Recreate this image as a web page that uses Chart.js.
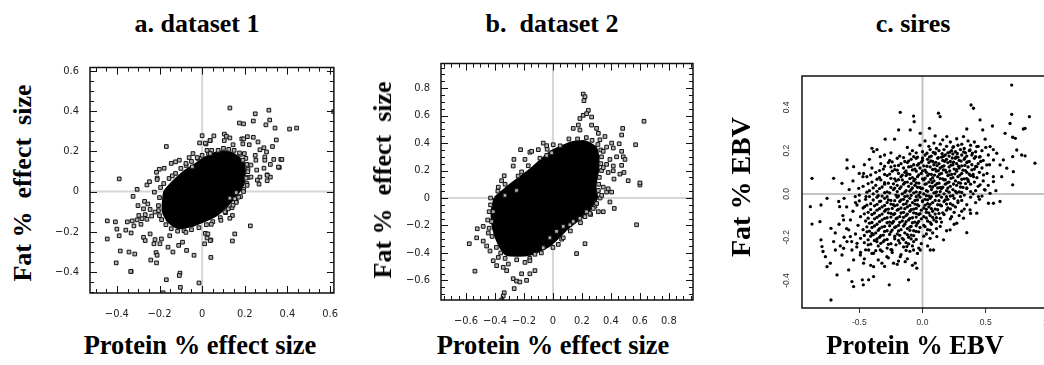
<!DOCTYPE html>
<html>
<head>
<meta charset="utf-8">
<script src="https://cdn.jsdelivr.net/npm/chart.js@4.4.1/dist/chart.umd.min.js"></script>
<style>
html, body { margin:0; padding:0; background:#fff; width:1044px; height:365px; overflow:hidden; }
canvas { position:absolute; }
.lbl { position:absolute; font-family:"Liberation Serif","Times New Roman",serif; font-weight:bold; color:#000; white-space:pre; line-height:1; }
.title { font-size:26px; transform:translateX(-50%); top:11px; }
.xlab { font-size:26.5px; transform:translateX(-50%); top:332px; }
.ylab { font-size:26px; transform:translate(-50%,-50%) rotate(-90deg); }
</style>
</head>
<body>
<canvas id="chartA" width="305" height="265" style="left:40px;top:58px"></canvas>
<canvas id="chartB" width="308" height="276" style="left:390px;top:54px"></canvas>
<canvas id="chartC" width="330" height="267" style="left:740px;top:71px"></canvas>

<div class="lbl title" style="left:197px">a. dataset 1</div>
<div class="lbl title" style="left:552px">b.  dataset 2</div>
<div class="lbl title" style="left:913px">c. sires</div>
<div class="lbl ylab" style="left:23px;top:183px">Fat %  effect  size</div>
<div class="lbl ylab" style="left:383px;top:180px">Fat %  effect  size</div>
<div class="lbl ylab" style="left:741px;top:187px;font-size:28px">Fat % EBV</div>
<div class="lbl xlab" style="left:200px">Protein % effect size</div>
<div class="lbl xlab" style="left:553px">Protein % effect size</div>
<div class="lbl xlab" style="left:915px">Protein % EBV</div>

<script>
// tick labels
const ticksAX = [-0.4, -0.2, 0, 0.2, 0.4, 0.6];
const ticksAY = [-0.4, -0.2, 0, 0.2, 0.4, 0.6];
const ticksBX = [-0.6, -0.4, -0.2, 0, 0.2, 0.4, 0.6, 0.8];
const ticksBY = [-0.6, -0.4, -0.2, 0, 0.2, 0.4, 0.6, 0.8];
const ticksCX = [-0.5, 0, 0.5, 1.0];
const ticksCY = [-0.4, -0.2, 0, 0.2, 0.4];
const labelsCX = ['-0.5', '0.0', '0.5', '1.0'];
const labelsCY = ['-0.4', '-0.2', '0.0', '0.2', '0.4'];

// a. dataset 1: outline of the solid black core, squares along its rim, then the separate squares
const coreA = [[-0.183,-0.065],[-0.175,0.0],[-0.135,0.049],[-0.084,0.098],[-0.038,0.130],[0.008,0.163],[0.053,0.187],[0.099,0.198],[0.145,0.187],[0.191,0.146],[0.198,0.098],[0.19,0.033],[0.16,-0.016],[0.12,-0.065],[0.069,-0.114],[0.008,-0.146],[-0.053,-0.171],[-0.114,-0.179],[-0.160,-0.146],[-0.183,-0.098],[-0.183,-0.065]];
const rimA = [
  [-0.205,-0.07],[-0.195,0.02],[-0.155,0.065],[-0.10,0.115],[-0.05,0.15],[0.0,0.18],[0.045,0.205],[0.1,0.215],[0.15,0.205],[0.205,0.165],[0.215,0.11],[0.21,0.04],
  [0.18,-0.025],[0.14,-0.08],[0.085,-0.13],[0.02,-0.165],[-0.05,-0.19],[-0.115,-0.197],[-0.17,-0.165],[-0.2,-0.12],
  [-0.2,-0.03],[-0.18,0.04],[-0.125,0.09],[-0.075,0.13],[-0.02,0.165],[0.03,0.19],[0.075,0.205],[0.125,0.21],[0.18,0.185],[0.21,0.135],[0.215,0.07],[0.195,0.01],
  [0.16,-0.05],[0.11,-0.105],[0.05,-0.15],[-0.015,-0.18],[-0.085,-0.195],[-0.145,-0.185],[-0.19,-0.14],[-0.205,-0.095]
];
const pointsA = [
  [0.0,0.278],[-0.012,0.242],[0.018,0.237],[0.038,0.254],[-0.168,0.224],[0.023,0.205],[0.038,0.189],[-0.043,0.189],[-0.061,0.169],[-0.023,0.169],
  [-0.107,0.156],[-0.125,0.148],[-0.145,0.140],[-0.178,0.116],[-0.201,0.111],[-0.214,0.096],[-0.140,0.078],[-0.211,0.067],[-0.389,0.063],[-0.076,0.140],[-0.046,0.123],
  [0.130,0.416],[0.249,0.387],[0.313,0.405],[0.617,0.398],[0.240,0.351],[0.317,0.356],[0.175,0.341],[0.194,0.337],[0.299,0.332],[0.342,0.316],[0.410,0.311],[0.443,0.316],
  [0.055,0.277],[0.104,0.286],[0.114,0.275],[0.037,0.254],[0.104,0.254],[0.130,0.267],[0.186,0.262],[0.195,0.262],[0.212,0.273],[0.240,0.270],[0.262,0.247],[0.348,0.257],
  [0.015,0.241],[0.191,0.237],[0.221,0.233],[0.290,0.218],[0.330,0.224],[0.145,0.233],[0.271,0.208],[0.302,0.197],[0.175,0.192],[0.198,0.189],[0.249,0.180],[0.294,0.172],
  [0.336,0.160],[0.369,0.160],[0.252,0.156],[0.294,0.156],[0.191,0.156],[0.320,0.135],[0.229,0.132],[0.362,0.120],[0.256,0.107],[0.290,0.116],[0.214,0.099],[0.305,0.083],
  [0.320,0.072],[0.271,0.072],[0.206,0.067],[0.229,0.072],[0.358,0.122],[0.374,0.160],[0.305,0.081],
  [0.194,0.0],[0.160,-0.005],[0.171,-0.028],[0.153,-0.036],[0.130,-0.033],[0.160,-0.054],[0.145,-0.068],[0.122,-0.086],[0.107,-0.101],[0.142,-0.119],[0.130,-0.133],
  [0.088,-0.143],[0.226,-0.171],[0.043,-0.163],[0.015,-0.208],[0.153,-0.211],[0.041,-0.241],[0.142,-0.246],[0.012,-0.260],[0.041,-0.328],[0.267,0.037],[0.305,0.054],
  [0.211,0.031],[0.259,0.057],[0.027,-0.211],[0.038,-0.244],[0.023,-0.231],
  [-0.305,0.011],[-0.324,-0.024],[-0.259,0.033],[-0.247,0.049],[-0.211,0.060],[-0.224,-0.003],[-0.270,-0.049],[-0.301,-0.070],[-0.255,-0.062],[-0.275,-0.086],
  [-0.244,-0.089],[-0.297,-0.119],[-0.267,-0.115],[-0.237,-0.122],[-0.221,-0.102],[-0.351,-0.151],[-0.328,-0.146],[-0.305,-0.141],[-0.282,-0.135],[-0.259,-0.138],
  [-0.445,-0.146],[-0.407,-0.151],[-0.320,-0.171],[-0.287,-0.163],[-0.400,-0.187],[-0.358,-0.192],[-0.333,-0.206],[-0.389,-0.220],[-0.445,-0.236],[-0.275,-0.228],
  [-0.244,-0.211],[-0.267,-0.244],[-0.221,-0.239],[-0.226,-0.260],[-0.191,-0.236],[-0.198,-0.260],[-0.160,-0.277],[-0.152,-0.220],[-0.384,-0.296],[-0.343,-0.301],
  [-0.316,-0.311],[-0.216,-0.304],[-0.211,-0.317],[-0.137,-0.301],[-0.110,-0.268],[-0.092,-0.252],[-0.073,-0.293],[-0.038,-0.317],[-0.241,-0.341],[-0.214,-0.355],
  [-0.403,-0.355],[-0.333,-0.398],[-0.104,-0.406],[-0.107,-0.418],[-0.168,-0.439],[-0.015,-0.455],[-0.102,-0.477],[-0.183,-0.504],[-0.076,-0.203],[-0.335,-0.398]
];

// b. dataset 2
const coreB = [[-0.40,0.0],[-0.30,0.09],[-0.15,0.21],[-0.02,0.33],[0.12,0.40],[0.22,0.41],[0.29,0.37],[0.31,0.30],[0.31,0.21],[0.29,0.09],[0.30,0.0],[0.24,-0.10],[0.10,-0.22],[-0.02,-0.34],[-0.16,-0.41],[-0.32,-0.41],[-0.37,-0.34],[-0.41,-0.22],[-0.42,-0.10],[-0.40,0.0]];
const rimB = [
  [-0.43,0.0],[-0.33,0.1],[-0.17,0.235],[-0.04,0.355],[0.11,0.43],[0.23,0.44],[0.31,0.39],[0.335,0.3],[0.335,0.2],[0.315,0.1],[0.325,0.0],[0.26,-0.12],[0.12,-0.24],
  [0.0,-0.36],[-0.16,-0.44],[-0.33,-0.44],[-0.39,-0.36],[-0.44,-0.22],[-0.44,-0.1],
  [-0.38,0.05],[-0.24,0.16],[-0.09,0.29],[0.05,0.38],[0.17,0.43],[0.27,0.42],[0.33,0.35],[0.33,0.25],[0.32,0.15],[0.31,0.05],[0.29,-0.06],[0.19,-0.18],[0.06,-0.3],
  [-0.08,-0.4],[-0.25,-0.45],[-0.36,-0.4],[-0.42,-0.28],[-0.45,-0.16],[-0.43,-0.05]
];
const pointsB = [
  [0.209,0.757],[0.221,0.738],[0.214,0.709],[0.244,0.638],[0.209,0.602],[0.186,0.579],[0.232,0.614],[0.267,0.590],[0.628,0.559],
  [0.175,0.531],[0.140,0.507],[0.186,0.495],[0.267,0.531],[0.301,0.507],[0.313,0.471],[0.324,0.424],[0.359,0.448],[0.481,0.507],[0.474,0.459],[0.405,0.400],[0.457,0.395],
  [0.370,0.371],[0.347,0.340],[0.416,0.364],[0.474,0.340],[0.439,0.300],[0.485,0.300],[0.497,0.281],[0.393,0.281],[0.370,0.245],[0.416,0.233],[0.474,0.238],[0.347,0.221],
  [0.381,0.186],[0.416,0.198],[0.462,0.174],[0.519,0.126],[0.490,0.186],[0.570,0.388],[0.600,0.095],[0.600,0.110],[0.421,0.138],[0.577,-0.195],[0.423,-0.076],[0.347,-0.100],
  [0.393,-0.029],[0.405,0.043],[0.370,0.043],[0.381,0.067],[0.347,0.079],[0.313,0.055],[0.336,0.019],[0.301,-0.040],[0.278,-0.076],[0.313,-0.100],[0.255,-0.112],[0.221,-0.136],
  [0.232,-0.100],[0.186,-0.148],[0.140,-0.171],[0.117,-0.195],[0.071,-0.207],[0.025,-0.243],[0.163,-0.405],[0.071,-0.290],[0.037,-0.338],[0.221,-0.333],[-0.021,-0.290],
  [-0.067,-0.362],[-0.124,-0.410],[-0.159,-0.457],[-0.193,-0.469],[-0.124,-0.529],[-0.216,-0.552],[-0.159,-0.552],[-0.274,-0.588],[-0.251,-0.605],[-0.228,-0.612],[-0.182,-0.600],
  [-0.267,-0.660],[-0.336,-0.690],[-0.343,-0.714],[-0.354,-0.743],[-0.319,-0.529],[-0.343,-0.505],[-0.388,-0.493],[-0.412,-0.457],[-0.377,-0.433],[-0.308,-0.481],[-0.434,-0.386],
  [-0.457,-0.350],[-0.481,-0.314],[-0.526,-0.290],[-0.577,-0.333],[-0.538,-0.533],[-0.522,-0.224],[-0.481,-0.207],[-0.446,-0.255],[-0.423,-0.171],[-0.412,-0.100],[-0.354,0.126],
  [-0.336,0.162],[-0.377,0.079],[-0.331,0.019],[-0.274,0.233],[-0.269,0.281],[-0.223,0.352],[-0.216,0.190],[-0.159,0.333],[-0.147,0.340],[-0.101,0.352],[-0.067,0.400],
  [-0.043,0.381],[0.002,0.388],[-0.043,0.310],[-0.009,0.329],[-0.193,0.281],[-0.251,0.055]
];

// c. sires
const siresOuter = [
  [0.705,0.503],[0.705,0.368],[0.845,0.357],[0.384,0.411],[0.403,0.396],[-0.176,0.377],[-0.071,0.360],[-0.066,0.334],[0.126,0.373],[0.139,0.357],[0.455,0.342],
  [0.553,0.314],[0.692,0.326],[0.797,0.300],[0.811,0.303],[0.889,0.142],[0.713,0.262],[0.653,0.280],[0.734,0.257],[0.784,0.180],[0.811,0.176],[0.713,0.172],[0.745,0.203],
  [0.613,0.134],[0.639,0.157],[0.666,0.119],[0.718,0.103],[0.713,0.042],[0.626,0.080],[0.561,0.057],[0.613,-0.035],[0.561,-0.043],[0.534,0.003],[0.350,-0.179],
  [-0.874,0.072],[-0.887,-0.059],[-0.803,-0.051],[-0.874,-0.139],[-0.811,-0.128],[-0.803,-0.212],[-0.795,-0.243],[-0.787,-0.266],[-0.768,-0.290],[-0.755,-0.020],
  [-0.703,0.072],[-0.724,-0.159],[-0.703,-0.220],[-0.689,-0.259],[-0.755,-0.336],[-0.729,-0.320],[-0.724,-0.490],[-0.676,-0.374],[-0.624,-0.251],[-0.637,-0.282],
  [-0.597,0.157],[-0.597,0.119],[-0.545,0.126],[-0.637,0.049],[-0.663,-0.035],[-0.655,-0.059],[-0.624,-0.120],[-0.584,-0.166],[-0.571,-0.197],[-0.597,-0.220],
  [-0.558,-0.259],[-0.545,-0.305],[-0.584,-0.351],[-0.558,-0.405],[-0.545,-0.428],[-0.476,-0.397],[-0.468,-0.420],[-0.426,-0.397],[-0.387,-0.382],[-0.263,-0.420],
  [-0.111,-0.397],[-0.387,-0.336],[-0.492,-0.282],[-0.518,-0.228],[-0.466,-0.320],[-0.447,-0.012],[-0.458,-0.059],[-0.505,0.026],[-0.532,-0.012],[-0.518,-0.051],
  [-0.471,0.080],[-0.466,0.095],[-0.400,0.211],[-0.387,0.196],[-0.334,0.172],[-0.295,0.253],[-0.221,0.253],[-0.189,0.296],[-0.097,0.296],[-0.018,0.280],[0.055,0.303],
  [0.100,0.268],[0.192,0.265],[0.324,0.265],[0.350,0.300],[0.476,0.296],[0.495,0.253],[0.534,0.219],[0.429,0.219],[0.245,0.219],[0.376,0.203],[0.455,0.172],[0.508,0.134],
  [0.587,0.188],[0.561,0.157],[0.482,0.088],[0.429,0.126],[0.403,0.080],[0.363,0.057],[0.455,0.042],[0.495,0.018],[0.521,-0.043],[0.442,-0.012],[0.429,-0.089],
  [0.376,-0.074],[0.324,-0.112],[0.271,-0.135],[0.218,-0.166],[0.166,-0.212],[0.113,-0.197],[0.087,-0.259],[0.061,-0.259],[-0.018,-0.259],[-0.071,-0.259],[-0.124,-0.243],
  [-0.176,-0.290],[-0.137,-0.313],[-0.058,-0.320],[-0.045,-0.343],[-0.229,-0.320],[-0.282,-0.290],[-0.321,-0.320],[-0.334,-0.259],[-0.242,-0.259],[-0.361,-0.220],
  [-0.400,-0.182],[-0.426,-0.259],[-0.387,-0.274]
];
const siresCore = [
  [0.02,0.245],[0.09,0.235],[0.16,0.25],[0.22,0.24],[0.27,0.255],[0.31,0.23],[0.36,0.245],[0.41,0.24],
  [-0.12,0.215],[-0.02,0.225],[0.05,0.22],[0.11,0.21],[0.14,0.23],[0.19,0.22],[0.24,0.215],[0.28,0.225],[0.33,0.21],[0.38,0.225],[0.44,0.22],[0.5,0.215],
  [-0.36,0.205],[-0.25,0.19],[-0.08,0.2],[0.0,0.195],[0.06,0.205],[0.1,0.19],[0.13,0.2],[0.17,0.205],[0.2,0.19],[0.23,0.2],[0.26,0.195],[0.3,0.205],[0.34,0.19],[0.37,0.2],[0.42,0.195],[0.47,0.2],[0.56,0.205],
  [-0.3,0.18],[-0.18,0.175],[-0.1,0.185],[-0.04,0.17],[0.02,0.18],[0.07,0.175],[0.1,0.185],[0.15,0.17],[0.18,0.18],[0.21,0.175],[0.24,0.185],[0.28,0.17],[0.31,0.18],[0.35,0.175],[0.39,0.18],[0.45,0.17],[0.52,0.18],
  [-0.42,0.16],[-0.26,0.155],[-0.2,0.165],[-0.14,0.15],[-0.09,0.16],[-0.05,0.165],[0.0,0.155],[0.04,0.16],[0.08,0.15],[0.12,0.165],[0.16,0.155],[0.19,0.16],[0.22,0.15],[0.26,0.165],[0.29,0.155],[0.33,0.16],[0.37,0.15],[0.41,0.165],[0.48,0.155],
  [-0.46,0.135],[-0.33,0.14],[-0.27,0.145],[-0.22,0.13],[-0.17,0.14],[-0.12,0.145],[-0.07,0.135],[-0.03,0.14],[0.01,0.13],[0.05,0.145],[0.09,0.135],[0.13,0.14],[0.17,0.13],[0.2,0.145],[0.24,0.135],[0.27,0.14],[0.31,0.13],[0.35,0.145],[0.39,0.135],[0.44,0.14],[0.53,0.135],
  [-0.4,0.12],[-0.31,0.115],[-0.25,0.125],[-0.2,0.11],[-0.15,0.12],[-0.11,0.125],[-0.06,0.115],[-0.02,0.12],[0.02,0.11],[0.06,0.125],[0.1,0.115],[0.14,0.12],[0.18,0.11],[0.21,0.125],[0.25,0.115],[0.29,0.12],[0.32,0.11],[0.36,0.125],[0.41,0.115],[0.47,0.12],
  [-0.5,0.095],[-0.37,0.1],[-0.3,0.09],[-0.24,0.105],[-0.19,0.095],[-0.14,0.1],[-0.1,0.09],[-0.05,0.105],[-0.01,0.095],[0.03,0.1],[0.07,0.09],[0.11,0.105],[0.15,0.095],[0.19,0.1],[0.23,0.09],[0.27,0.105],[0.31,0.095],[0.35,0.1],[0.4,0.09],[0.45,0.1],[0.51,0.095],
  [-0.44,0.08],[-0.34,0.075],[-0.28,0.085],[-0.22,0.07],[-0.17,0.08],[-0.13,0.085],[-0.08,0.075],[-0.04,0.08],[0.0,0.07],[0.04,0.085],[0.08,0.075],[0.12,0.08],[0.16,0.07],[0.2,0.085],[0.24,0.075],[0.28,0.08],[0.33,0.07],[0.38,0.085],[0.43,0.075],[0.56,0.08],
  [-0.55,0.06],[-0.4,0.055],[-0.33,0.065],[-0.27,0.05],[-0.21,0.06],[-0.16,0.065],[-0.12,0.055],[-0.07,0.06],[-0.03,0.05],[0.01,0.065],[0.05,0.055],[0.09,0.06],[0.13,0.05],[0.17,0.065],[0.21,0.055],[0.26,0.06],[0.3,0.05],[0.36,0.065],[0.41,0.055],[0.48,0.06],
  [-0.47,0.035],[-0.37,0.04],[-0.3,0.045],[-0.25,0.03],[-0.2,0.04],[-0.15,0.045],[-0.11,0.035],[-0.06,0.04],[-0.02,0.03],[0.02,0.045],[0.06,0.035],[0.1,0.04],[0.14,0.03],[0.18,0.045],[0.22,0.035],[0.27,0.04],[0.32,0.03],[0.38,0.045],[0.44,0.035],[0.52,0.04],
  [-0.58,0.02],[-0.42,0.015],[-0.34,0.025],[-0.28,0.01],[-0.23,0.02],[-0.18,0.025],[-0.13,0.015],[-0.09,0.02],[-0.05,0.01],[-0.01,0.025],[0.03,0.015],[0.07,0.02],[0.11,0.01],[0.15,0.025],[0.19,0.015],[0.24,0.02],[0.29,0.01],[0.35,0.025],[0.42,0.015],[0.49,0.02],[0.58,0.015],
  [-0.5,-0.005],[-0.39,0.0],[-0.32,-0.01],[-0.26,0.005],[-0.21,-0.005],[-0.16,0.0],[-0.12,-0.01],[-0.07,0.005],[-0.03,-0.005],[0.01,0.0],[0.05,-0.01],[0.09,0.005],[0.13,-0.005],[0.17,0.0],[0.22,-0.01],[0.27,0.005],[0.33,-0.005],[0.4,0.0],[0.47,-0.01],
  [-0.62,-0.02],[-0.45,-0.025],[-0.36,-0.015],[-0.3,-0.02],[-0.25,-0.03],[-0.2,-0.015],[-0.15,-0.025],[-0.1,-0.02],[-0.06,-0.03],[-0.02,-0.015],[0.02,-0.025],[0.06,-0.02],[0.1,-0.03],[0.15,-0.015],[0.2,-0.025],[0.25,-0.02],[0.31,-0.03],[0.38,-0.015],[0.45,-0.025],
  [-0.53,-0.04],[-0.41,-0.045],[-0.34,-0.035],[-0.28,-0.04],[-0.23,-0.05],[-0.18,-0.035],[-0.13,-0.045],[-0.08,-0.04],[-0.04,-0.05],[0.0,-0.035],[0.04,-0.045],[0.08,-0.04],[0.12,-0.05],[0.17,-0.035],[0.22,-0.045],[0.28,-0.04],[0.35,-0.05],[0.42,-0.04],
  [-0.6,-0.06],[-0.47,-0.065],[-0.38,-0.055],[-0.32,-0.06],[-0.27,-0.07],[-0.22,-0.055],[-0.17,-0.065],[-0.12,-0.06],[-0.07,-0.07],[-0.03,-0.055],[0.01,-0.065],[0.05,-0.06],[0.1,-0.07],[0.15,-0.055],[0.2,-0.065],[0.26,-0.06],[0.33,-0.07],
  [-0.55,-0.08],[-0.43,-0.085],[-0.36,-0.075],[-0.3,-0.08],[-0.25,-0.09],[-0.2,-0.075],[-0.15,-0.085],[-0.1,-0.08],[-0.05,-0.09],[-0.01,-0.075],[0.03,-0.085],[0.08,-0.08],[0.13,-0.09],[0.19,-0.075],[0.25,-0.085],[0.31,-0.08],[0.38,-0.09],
  [-0.63,-0.1],[-0.49,-0.105],[-0.4,-0.095],[-0.34,-0.1],[-0.28,-0.11],[-0.23,-0.095],[-0.18,-0.105],[-0.13,-0.1],[-0.08,-0.11],[-0.03,-0.095],[0.01,-0.105],[0.06,-0.1],[0.11,-0.11],[0.17,-0.095],[0.23,-0.105],[0.29,-0.1],
  [-0.57,-0.12],[-0.45,-0.125],[-0.38,-0.115],[-0.32,-0.12],[-0.26,-0.13],[-0.21,-0.115],[-0.16,-0.125],[-0.11,-0.12],[-0.06,-0.13],[-0.01,-0.115],[0.04,-0.125],[0.09,-0.12],[0.15,-0.13],[0.22,-0.115],
  [-0.66,-0.14],[-0.51,-0.145],[-0.42,-0.135],[-0.36,-0.14],[-0.3,-0.15],[-0.24,-0.135],[-0.19,-0.145],[-0.14,-0.14],[-0.09,-0.15],[-0.04,-0.135],[0.01,-0.145],[0.07,-0.14],[0.14,-0.15],[0.25,-0.14],
  [-0.6,-0.16],[-0.47,-0.165],[-0.4,-0.155],[-0.34,-0.16],[-0.28,-0.17],[-0.22,-0.155],[-0.17,-0.165],[-0.12,-0.16],[-0.07,-0.17],[-0.02,-0.155],[0.04,-0.165],[0.11,-0.16],[0.19,-0.17],
  [-0.69,-0.18],[-0.53,-0.185],[-0.44,-0.175],[-0.37,-0.18],[-0.31,-0.19],[-0.25,-0.175],[-0.2,-0.185],[-0.14,-0.18],[-0.09,-0.19],[-0.03,-0.175],[0.03,-0.185],[0.08,-0.18],
  [-0.62,-0.2],[-0.49,-0.205],[-0.41,-0.195],[-0.34,-0.2],[-0.28,-0.21],[-0.22,-0.195],[-0.16,-0.205],[-0.11,-0.2],[-0.05,-0.21],[0.01,-0.195],[0.06,-0.205],
  [-0.56,-0.22],[-0.46,-0.225],[-0.38,-0.215],[-0.31,-0.22],[-0.25,-0.23],[-0.19,-0.215],[-0.13,-0.225],[-0.07,-0.22],[-0.01,-0.23],
  [-0.65,-0.24],[-0.52,-0.245],[-0.43,-0.235],[-0.35,-0.24],[-0.28,-0.25],[-0.21,-0.235],[-0.15,-0.245],[-0.08,-0.24],[-0.03,-0.25],[0.04,-0.24],
  [-0.49,-0.27],[-0.4,-0.275],[-0.32,-0.265],[-0.24,-0.27],[-0.17,-0.28],[-0.1,-0.265],[-0.04,-0.275],
  [-0.46,-0.3],[-0.35,-0.305],[-0.27,-0.295],[-0.19,-0.31],[-0.12,-0.3],
  [-0.41,-0.33],[-0.3,-0.335],[-0.2,-0.325],[-0.08,-0.33]
];
const siresDense = [
  [-0.05,0.19],[0.035,0.188],[0.085,0.192],[0.155,0.186],[0.215,0.193],[0.275,0.187],[0.325,0.194],[0.395,0.189],
  [-0.15,0.168],[-0.07,0.172],[0.0,0.166],[0.055,0.171],[0.125,0.168],[0.165,0.174],[0.235,0.166],[0.265,0.171],[0.335,0.167],[0.42,0.172],
  [-0.24,0.148],[-0.11,0.152],[-0.01,0.147],[0.065,0.153],[0.105,0.146],[0.175,0.151],[0.245,0.147],[0.305,0.152],[0.355,0.148],[0.46,0.15],
  [-0.3,0.128],[-0.19,0.132],[-0.09,0.127],[-0.04,0.133],[0.035,0.128],[0.115,0.131],[0.155,0.126],[0.225,0.133],[0.285,0.128],[0.335,0.132],[0.42,0.127],
  [-0.34,0.108],[-0.22,0.112],[-0.13,0.106],[-0.08,0.111],[0.0,0.107],[0.08,0.113],[0.125,0.108],[0.165,0.111],[0.215,0.106],[0.27,0.112],[0.34,0.108],[0.39,0.111],
  [-0.41,0.088],[-0.26,0.092],[-0.16,0.087],[-0.12,0.093],[-0.03,0.088],[0.05,0.092],[0.095,0.087],[0.135,0.091],[0.21,0.088],[0.255,0.093],[0.295,0.087],[0.37,0.091],
  [-0.36,0.068],[-0.25,0.072],[-0.19,0.066],[-0.1,0.071],[-0.06,0.068],[0.02,0.073],[0.065,0.067],[0.14,0.071],[0.18,0.066],[0.225,0.072],[0.31,0.068],[0.35,0.071],
  [-0.43,0.048],[-0.3,0.052],[-0.23,0.047],[-0.14,0.053],[-0.09,0.048],[-0.05,0.051],[0.03,0.047],[0.075,0.052],[0.115,0.048],[0.195,0.051],[0.245,0.046],[0.285,0.052],[0.34,0.048],
  [-0.39,0.028],[-0.32,0.032],[-0.22,0.027],[-0.17,0.033],[-0.08,0.028],[-0.04,0.031],[0.0,0.026],[0.08,0.032],[0.12,0.028],[0.16,0.031],[0.2,0.027],[0.3,0.032],[0.35,0.028],
  [-0.44,0.008],[-0.36,0.012],[-0.3,0.006],[-0.2,0.011],[-0.14,0.008],[-0.1,0.013],[-0.02,0.007],[0.04,0.012],[0.1,0.006],[0.14,0.011],[0.21,0.008],[0.26,0.012],[0.31,0.007],[0.38,0.011],
  [-0.42,-0.012],[-0.35,-0.008],[-0.28,-0.013],[-0.19,-0.009],[-0.14,-0.012],[-0.09,-0.007],[-0.05,-0.013],[0.03,-0.008],[0.07,-0.012],[0.11,-0.009],[0.19,-0.013],[0.24,-0.008],[0.3,-0.012],
  [-0.5,-0.032],[-0.39,-0.028],[-0.33,-0.033],[-0.27,-0.027],[-0.22,-0.031],[-0.17,-0.028],[-0.12,-0.033],[-0.04,-0.028],[0.0,-0.032],[0.04,-0.027],[0.13,-0.031],[0.18,-0.028],[0.28,-0.032],
  [-0.44,-0.052],[-0.36,-0.048],[-0.3,-0.053],[-0.25,-0.047],[-0.2,-0.051],[-0.15,-0.048],[-0.1,-0.053],[-0.06,-0.047],[0.02,-0.052],[0.06,-0.048],[0.14,-0.051],[0.19,-0.047],[0.24,-0.052],
  [-0.41,-0.072],[-0.34,-0.068],[-0.29,-0.073],[-0.24,-0.067],[-0.19,-0.071],[-0.14,-0.068],[-0.09,-0.073],[-0.05,-0.067],[0.03,-0.071],[0.07,-0.068],[0.12,-0.073],[0.22,-0.069],
  [-0.46,-0.092],[-0.38,-0.088],[-0.32,-0.093],[-0.27,-0.087],[-0.22,-0.091],[-0.17,-0.088],[-0.12,-0.093],[-0.07,-0.087],[-0.02,-0.091],[0.05,-0.088],[0.1,-0.093],[0.16,-0.087],
  [-0.43,-0.112],[-0.36,-0.108],[-0.3,-0.113],[-0.25,-0.107],[-0.2,-0.111],[-0.15,-0.108],[-0.1,-0.113],[-0.05,-0.107],[0.03,-0.111],[0.08,-0.108],[0.14,-0.113],
  [-0.4,-0.132],[-0.34,-0.128],[-0.28,-0.133],[-0.23,-0.127],[-0.18,-0.131],[-0.13,-0.128],[-0.08,-0.133],[-0.03,-0.127],[0.06,-0.131],[0.11,-0.128],
  [-0.44,-0.152],[-0.38,-0.148],[-0.32,-0.153],[-0.26,-0.147],[-0.21,-0.151],[-0.15,-0.148],[-0.1,-0.153],[-0.05,-0.147],[0.02,-0.151],
  [-0.42,-0.172],[-0.35,-0.168],[-0.3,-0.173],[-0.24,-0.167],[-0.19,-0.171],[-0.1,-0.168],[-0.05,-0.173],[0.06,-0.167],
  [-0.46,-0.192],[-0.39,-0.188],[-0.33,-0.193],[-0.26,-0.187],[-0.18,-0.191],[-0.12,-0.188],[-0.07,-0.193],
  [-0.43,-0.212],[-0.36,-0.208],[-0.3,-0.213],[-0.22,-0.207],[-0.15,-0.211],[-0.09,-0.208],
  [-0.41,-0.232],[-0.33,-0.228],[-0.27,-0.233],[-0.18,-0.227],[-0.11,-0.231],
  [-0.45,-0.258],[-0.37,-0.262],[-0.25,-0.257],[-0.13,-0.261]
];

const toXY = arr => arr.map(p => ({x: p[0], y: p[1]}));
const tickFont = {family: "'Liberation Sans Narrow','DejaVu Sans Condensed','Liberation Sans',sans-serif", size: 11};
const tinyFont = "8.5px 'Liberation Sans','DejaVu Sans',sans-serif";

function fmt(v) {
    return Math.abs(v) < 1e-9 ? '0' : v.toFixed(1).replace('-', '\u2212');
}

// zero lines under the points, frame and inward minor/major ticks on top
const frame = {
    id: 'frame',
    beforeDatasetsDraw(chart, args, opts) {
        const {ctx, chartArea: a, scales: {x, y}} = chart;
        ctx.save();
        ctx.strokeStyle = opts.zeroColor;
        ctx.lineWidth = 2;
        const x0 = x.getPixelForValue(0);
        const y0 = y.getPixelForValue(0);
        ctx.beginPath();
        ctx.moveTo(x0, a.top); ctx.lineTo(x0, a.bottom);
        ctx.moveTo(a.left, y0); ctx.lineTo(a.right, y0);
        ctx.stroke();
        ctx.restore();
    },
    afterDatasetsDraw(chart, args, opts) {
        const {ctx, chartArea: a, scales: {x, y}} = chart;
        ctx.save();
        ctx.strokeStyle = '#111';
        ctx.lineWidth = 1.5;
        ctx.beginPath();
        if (opts.box) {
            ctx.rect(a.left, a.top, a.right - a.left, a.bottom - a.top);
        } else {
            ctx.moveTo(a.right + 20, a.top); ctx.lineTo(a.left, a.top);
            ctx.lineTo(a.left, a.bottom); ctx.lineTo(a.right + 20, a.bottom);
        }
        ctx.stroke();
        if (opts.innerTicks) {
            ctx.lineWidth = 1;
            ctx.beginPath();
            for (let k = Math.ceil(x.min / 0.05 - 1e-6); k <= Math.floor(x.max / 0.05 + 1e-6); k++) {
                const len = k % 4 === 0 ? 7 : 4;
                const p = Math.round(x.getPixelForValue(k * 0.05)) + 0.5;
                ctx.moveTo(p, a.bottom); ctx.lineTo(p, a.bottom - len);
                ctx.moveTo(p, a.top); ctx.lineTo(p, a.top + len);
            }
            for (let k = Math.ceil(y.min / 0.05 - 1e-6); k <= Math.floor(y.max / 0.05 + 1e-6); k++) {
                const len = k % 4 === 0 ? 7 : 4;
                const p = Math.round(y.getPixelForValue(k * 0.05)) + 0.5;
                ctx.moveTo(a.left, p); ctx.lineTo(a.left + len, p);
                ctx.moveTo(a.right, p); ctx.lineTo(a.right - len, p);
            }
            ctx.stroke();
        }
        if (opts.rotLabels) {
            ctx.fillStyle = '#333';
            ctx.font = tinyFont;
            ctx.textAlign = 'center';
            ctx.textBaseline = 'middle';
            ticksCY.forEach((v, i) => {
                ctx.save();
                ctx.translate(a.left - 15, y.getPixelForValue(v));
                ctx.rotate(-Math.PI / 2);
                ctx.fillText(labelsCY[i], 0, 0);
                ctx.restore();
            });
        }
        ctx.restore();
    }
};

function squareChart(id, core, rim, points, xr, yr, xt, yt, yWidth) {
    return new Chart(document.getElementById(id), {
        type: 'scatter',
        data: {
            datasets: [
                {data: toXY(rim.concat(points)), pointStyle: 'rect', pointRadius: 2.6, borderWidth: 1,
                 borderColor: '#111', backgroundColor: '#b4b4b4', order: 1},
                {data: toXY(core), showLine: true, fill: 'shape', tension: 0.2, pointRadius: 0,
                 borderColor: '#000', backgroundColor: '#000', borderWidth: 3, order: 2}
            ]
        },
        options: {
            responsive: false, animation: false, events: [],
            layout: {padding: {top: 5, right: 5, left: 0, bottom: 0}},
            plugins: {legend: {display: false}, tooltip: {enabled: false},
                      frame: {zeroColor: '#d6d6d6', box: true, innerTicks: true}},
            scales: {
                x: {type: 'linear', min: xr[0], max: xr[1],
                    afterFit: s => { s.height = 30; },
                    afterBuildTicks: s => { s.ticks = xt.map(v => ({value: v})); },
                    grid: {display: false}, border: {display: false},
                    ticks: {padding: 7, font: tickFont, color: '#222', maxRotation: 0, autoSkip: false, callback: fmt}},
                y: {type: 'linear', min: yr[0], max: yr[1],
                    afterFit: s => { s.width = yWidth; },
                    afterBuildTicks: s => { s.ticks = yt.map(v => ({value: v})); },
                    grid: {display: false}, border: {display: false},
                    ticks: {padding: 3, font: tickFont, color: '#222', autoSkip: false, callback: fmt}}
            }
        },
        plugins: [frame]
    });
}

squareChart('chartA', coreA, rimA, pointsA, [-0.526, 0.618], [-0.505, 0.617], ticksAX, ticksAY, 50);
squareChart('chartB', coreB, rimB, pointsB, [-0.772, 0.966], [-0.743, 0.979], ticksBX, ticksBY, 51);

new Chart(document.getElementById('chartC'), {
    type: 'scatter',
    data: {
        datasets: [
            {data: toXY(siresCore.concat(siresDense, siresOuter)), pointStyle: 'circle', pointRadius: 1.65,
             borderWidth: 0, backgroundColor: '#000'}
        ]
    },
    options: {
        responsive: false, animation: false, events: [],
        layout: {padding: {top: 5, right: 10, left: 0, bottom: 0}},
        plugins: {legend: {display: false}, tooltip: {enabled: false},
                  frame: {zeroColor: '#c4c4c4', box: false, innerTicks: false, rotLabels: true}},
        scales: {
            x: {type: 'linear', min: -0.953, max: 1.087,
                afterFit: s => { s.height = 30; },
                afterBuildTicks: s => { s.ticks = ticksCX.map(v => ({value: v})); },
                grid: {drawOnChartArea: false, drawTicks: true, tickLength: 5, color: '#333'},
                border: {display: false},
                ticks: {padding: 5, font: {family: "'Liberation Sans','DejaVu Sans',sans-serif", size: 8.5}, color: '#333',
                        maxRotation: 0, autoSkip: false,
                        callback: (v, i) => labelsCX[i]}},
            y: {type: 'linear', min: -0.527, max: 0.545,
                afterFit: s => { s.width = 62; },
                afterBuildTicks: s => { s.ticks = ticksCY.map(v => ({value: v})); },
                grid: {display: false}, border: {display: false},
                ticks: {display: false}}
        }
    },
    plugins: [frame]
});
</script>
</body>
</html>
